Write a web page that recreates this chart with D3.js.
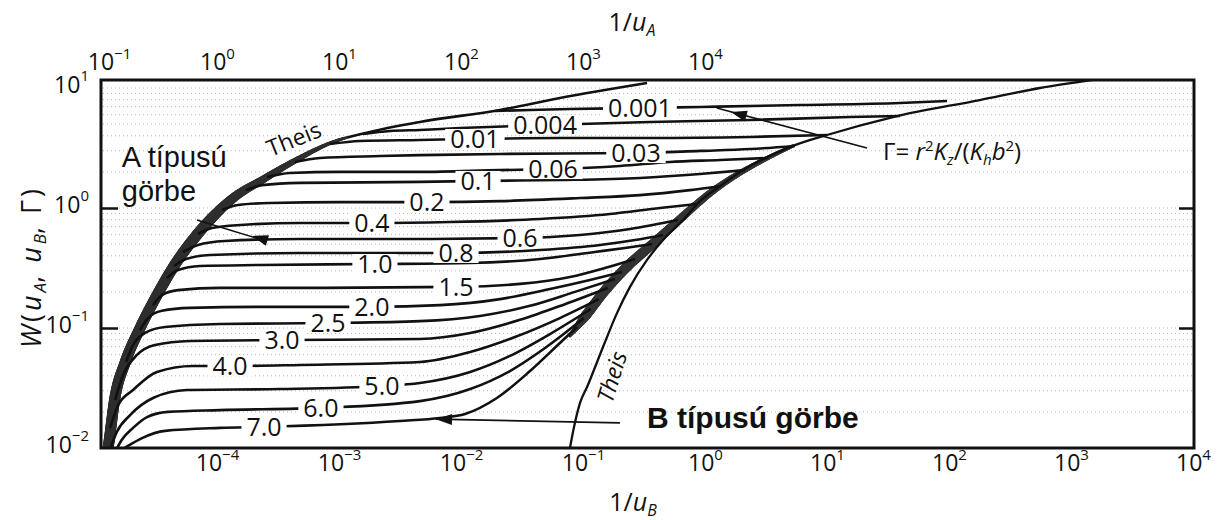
<!DOCTYPE html>
<html>
<head>
<meta charset="utf-8">
<script src="https://cdn.jsdelivr.net/npm/d3@7/dist/d3.min.js"></script>
<style>
  html,body{margin:0;padding:0;background:#fff;}
  svg text{font-family:"Open Sans","Noto Sans","DejaVu Sans",sans-serif;fill:#111;}
</style>
</head>
<body>
<svg id="chart" width="1220" height="520"></svg>
<script>
// ================= DATA =================
// Gamma curve labels
const gammaValues = ["0.001","0.004","0.01","0.03","0.06","0.1","0.2","0.4","0.6","0.8","1.0","1.5","2.0","2.5","3.0","4.0","5.0","6.0","7.0"];

// each curve: [1/u_B, W]
const g0_001 = [[1.90e-2,6.43],[3.68e-2,6.56],[7.82e-2,6.68],[0.293,6.81],[0.910,6.95],[6.01,7.21],[39.7,7.50],[96.4,7.79]];
const g0_004 = [[1.57e-3,4.14],[2.62e-3,4.38],[4.61e-3,4.47],[9.82e-3,4.64],[4.89e-2,4.92],[0.354,5.21],[2.34,5.41],[15.4,5.73],[39.7,5.84]];
const g0_01  = [[8.43e-4,3.41],[1.49e-3,3.62],[4.61e-3,3.69],[1.30e-2,3.76],[6.47e-2,3.83],[0.354,3.83],[2.34,3.91],[10,4.06]];
const g0_03  = [[4.36e-4,2.42],[6.98e-4,2.61],[2.17e-3,2.71],[4.61e-3,2.76],[2.09e-2,2.82],[0.272,2.87],[0.910,2.99],[2.34,3.10],[5.47,3.29]];
const g0_06  = [[2.57e-4,1.81],[3.96e-4,1.96],[1.02e-3,2.0],[4.61e-3,2.0],[2.09e-2,2.07],[5.68e-2,2.11],[0.201,2.24],[0.516,2.42],[1.33,2.51],[3.28,2.61]];
const g0_1   = [[1.73e-4,1.41],[2.34e-4,1.55],[4.79e-4,1.62],[4.61e-3,1.65],[1.38e-2,1.68],[6.47e-2,1.71],[0.293,1.78],[0.910,1.92],[2.13,2.07]];
const g0_2   = [[1.10e-4,0.962],[1.49e-4,1.06],[2.72e-4,1.10],[1.02e-3,1.12],[5.26e-3,1.12],[2.09e-2,1.14],[9.45e-2,1.21],[0.293,1.28],[0.754,1.41],[1.33,1.52]];
const g0_4   = [[6.98e-5,0.607],[9.10e-5,0.681],[1.55e-4,0.722],[4.79e-4,0.75],[1.86e-3,0.75],[8.13e-3,0.764],[4.45e-2,0.81],[0.166,0.891],[0.428,1.0],[0.860,1.08]];
const g0_6   = [[5.26e-5,0.43],[6.98e-5,0.492],[1.16e-4,0.531],[4.79e-4,0.552],[4.61e-3,0.552],[3.05e-2,0.562],[9.45e-2,0.596],[0.243,0.668],[0.601,0.794]];
const g0_8   = [[4.45e-5,0.329],[5.57e-5,0.376],[8.77e-5,0.406],[4.79e-4,0.422],[9.10e-3,0.422],[4.45e-2,0.447],[0.138,0.492],[0.267,0.541],[0.453,0.596]];
const g1_0   = [[3.89e-5,0.261],[4.79e-5,0.304],[7.26e-5,0.329],[2.25e-4,0.335],[1.97e-3,0.341],[1.19e-2,0.348],[4.45e-2,0.376],[0.125,0.43],[0.221,0.464],[0.368,0.501]];
const g1_5   = [[2.99e-5,0.155],[3.54e-5,0.188],[4.79e-5,0.207],[1.06e-4,0.216],[4.79e-4,0.216],[9.10e-3,0.22],[3.05e-2,0.233],[7.82e-2,0.266],[0.151,0.316],[0.267,0.376]];
const g2_0   = [[2.34e-5,0.0962],[2.72e-5,0.121],[3.54e-5,0.139],[6.01e-5,0.147],[2.25e-4,0.15],[1.86e-3,0.15],[6.73e-3,0.155],[2.09e-2,0.174],[5.37e-2,0.211],[0.114,0.251],[0.209,0.293]];
const g2_5   = [[1.80e-5,0.0521],[2.05e-5,0.0722],[2.57e-5,0.0909],[3.75e-5,0.102],[1.06e-4,0.108],[8.13e-4,0.110],[4.61e-3,0.114],[1.43e-2,0.126],[3.68e-2,0.153],[8.59e-2,0.2],[0.183,0.256]];
const g3_0   = [[1.46e-5,0.0251],[1.70e-5,0.0406],[2.21e-5,0.0596],[3.10e-5,0.0722],[6.01e-5,0.078],[3.41e-4,0.0794],[4.61e-3,0.081],[1.19e-2,0.0909],[3.05e-2,0.117],[7.11e-2,0.158],[0.160,0.216]];
const g4_0   = [[1.33e-5,0.0147],[1.55e-5,0.0228],[2.05e-5,0.0304],[3.22e-5,0.043],[6.35e-5,0.0482],[1.28e-4,0.0482],[4.79e-4,0.0492],[4.61e-3,0.0521],[1.19e-2,0.0631],[2.77e-2,0.0841],[6.47e-2,0.121],[0.135,0.174]];
const g5_0   = [[1.35e-5,0.0102],[1.51e-5,0.0136],[1.94e-5,0.0188],[2.99e-5,0.0261],[5.68e-5,0.0304],[3.28e-4,0.031],[2.25e-3,0.0329],[4.61e-3,0.0348],[1.19e-2,0.043],[2.52e-2,0.0585],[5.37e-2,0.0891],[0.116,0.144]];
const g6_0   = [[1.49e-5,0.00962],[1.66e-5,0.0117],[2.05e-5,0.0147],[2.67e-5,0.0181],[3.96e-5,0.02],[1.06e-4,0.0207],[7.11e-4,0.0216],[4.61e-3,0.0246],[1.19e-2,0.031],[2.52e-2,0.0438],[4.89e-2,0.0681],[0.102,0.121]];
const g7_0   = [[1.55e-5,0.00926],[1.86e-5,0.0104],[2.43e-5,0.0121],[3.75e-5,0.0139],[1.06e-4,0.0147],[2.43e-4,0.015],[3.16e-3,0.0168],[6.73e-3,0.0178],[1.08e-2,0.0192],[1.97e-2,0.0261],[3.68e-2,0.0438],[6.47e-2,0.075],[8.93e-2,0.102]];

const curveData = [g0_001,g0_004,g0_01,g0_03,g0_06,g0_1,g0_2,g0_4,g0_6,g0_8,g1_0,g1_5,g2_0,g2_5,g3_0,g4_0,g5_0,g6_0,g7_0];
// 1/u_B position of each curve label
const labelX = [0.293,0.0489,0.013,0.272,0.0568,0.0138,0.00526,0.00186,0.0305,0.0091,0.00197,0.0091,0.00186,0.000813,0.000341,0.000128,0.00225,0.000711,0.000243];

// Theis curve of type A, [1/u_A, W]
const theisA = [[0.119,0.0066],[0.128,0.01],[0.146,0.0266],[0.176,0.0511],[0.23,0.0962],[0.316,0.181],[0.461,0.348],[0.74,0.656],[1.40,1.24],[2.34,1.71],[4.45,2.51],[8.93,3.55],[17.9,4.30],[46,5.21],[209,6.56],[647,8.25],[3350,11.0]];
// Theis curve of type B, [1/u_B, W]
const theisB = [[0.074,0.0072],[0.0782,0.01],[0.0945,0.0237],[0.108,0.0322],[0.146,0.0695],[0.190,0.133],[0.243,0.22],[0.335,0.369],[0.453,0.541],[0.66,0.794],[0.91,1.14],[1.33,1.52],[1.94,2.0],[5.26,3.29],[10,4.06],[34.8,5.73],[179,7.94],[557,10],[1514,11.7]];
// dark band where type-B curves converge, [1/u_B, W]
const bandB = [[0.0782,0.0858],[0.0893,0.102],[0.114,0.141],[0.146,0.196],[0.190,0.266],[0.252,0.355],[0.341,0.464],[0.498,0.656],[0.754,0.962],[1.10,1.33],[1.70,1.81],[2.82,2.42],[5.26,3.29]];

// axis ticks
const xTicksBottom = [1e-4,1e-3,1e-2,1e-1,1,10,100,1000,10000];
const xTicksTop = [0.1,1,10,100,1000,10000];
const yTicks = [0.01,0.1,1,10];
const yMajorInner = [0.1,1];

// annotation arrows: [from, to, tip] in [1/u_B, W]
const arrowFrom = [[6.85e-5,0.794],[1.25,6.81],[6.24e-3,0.0174]];
const arrowTo   = [[2.52e-4,0.531],[21.3,3.16],[0.201,0.0162]];
const arrowTip  = [[1.94e-4,0.585],[1.63,6.31],[6.24e-3,0.0174]];

// ================= DRAWING =================
const svg = d3.select("#chart");
const L = 101, R = 1194, T = 80, B = 448;
const x = d3.scaleLog().domain([1.12e-5, 1.02e4]).range([L, R]);
const xTop = d3.scaleLog().domain([1.12e-1, 1.02e8]).range([L, R]);
const y = d3.scaleLog().domain([0.01, 11.66]).range([B, T]);

svg.append("rect").attr("width",1220).attr("height",520).attr("fill","#fff");

svg.append("defs").append("clipPath").attr("id","plotclip")
  .append("rect").attr("x",L).attr("y",T).attr("width",R-L).attr("height",B-T);

// faint dotted log-paper grid
const gridVals = [];
[-2,-1,0].forEach(e => { for (let k=1;k<=9;k++){ const v=k*Math.pow(10,e); if (v>0.0101) gridVals.push(v);} });
gridVals.push(10);
svg.append("g").selectAll("line").data(gridVals).join("line")
  .attr("x1",L+2).attr("x2",R-2).attr("y1",d=>y(d)).attr("y2",d=>y(d))
  .attr("stroke","#b8b8b8").attr("stroke-width",1).attr("stroke-dasharray","1 3");

const plot = svg.append("g").attr("clip-path","url(#plotclip)");

const lineB = d3.line().x(d=>x(d[0])).y(d=>y(d[1])).curve(d3.curveMonotoneX);
const lineA = d3.line().x(d=>xTop(d[0])).y(d=>y(d[1])).curve(d3.curveMonotoneX);

function tapered(g, pathD, widthFn, color){
  const tmp = g.append("path").attr("d",pathD).attr("fill","none").attr("stroke","none");
  const node = tmp.node(); const len = node.getTotalLength();
  const pts = d3.range(0, len, 1.5).map(l=>node.getPointAtLength(l)); pts.push(node.getPointAtLength(len));
  tmp.remove();
  for (let i=0;i<pts.length-1;i++){
    const w = widthFn(pts[i]);
    if (w <= 0) continue;
    g.append("line").attr("x1",pts[i].x).attr("y1",pts[i].y).attr("x2",pts[i+1].x).attr("y2",pts[i+1].y)
      .attr("stroke",color).attr("stroke-width",w).attr("stroke-linecap","round");
  }
}

// Theis A: thick dark band lower part, thin line upper part
plot.append("path").attr("d",lineA(theisA)).attr("fill","none").attr("stroke","#111").attr("stroke-width",2.6);
tapered(plot, lineA(theisA), p => p.x < 205 ? 11 : (p.x < 345 ? 11 - (p.x-205)/140*8.4 : 0), "#2e2e2e");

// convergence band of type B curves
tapered(plot, lineB(bandB), p => p.x < 585 ? 3 + (p.x-570)/15*7 : (p.x < 640 ? 10 : (p.x < 800 ? 10 - (p.x-640)/160*7 : 3)), "#333");

// Theis B thin line
plot.append("path").attr("d",lineB(theisB)).attr("fill","none").attr("stroke","#111").attr("stroke-width",2.3);

// Gamma curves
plot.selectAll("path.gc").data(curveData).join("path").attr("class","gc")
  .attr("d",d=>lineB(d)).attr("fill","none").attr("stroke","#111").attr("stroke-width",2.6)
  .attr("stroke-linejoin","round");

// curve labels
function interpLog(data, xv){
  const lx = Math.log10(xv);
  for (let i=0;i<data.length-1;i++){
    const a=Math.log10(data[i][0]), b=Math.log10(data[i+1][0]);
    if (lx>=a && lx<=b){ const t=(lx-a)/(b-a); return Math.pow(10, Math.log10(data[i][1])+t*(Math.log10(data[i+1][1])-Math.log10(data[i][1]))); }
  }
  return data[data.length-1][1];
}
const fs = 25;
const labG = svg.append("g");
gammaValues.forEach((g,i)=>{
  const xv = labelX[i], wv = interpLog(curveData[i], xv);
  const px = x(xv), py = y(wv);
  const grp = labG.append("g");
  const rect = grp.append("rect").attr("fill","#fff");
  const t = grp.append("text").attr("x",px).attr("y",py+0.36*fs).attr("text-anchor","middle")
    .attr("font-size",fs).text(g);
  const w = t.node().getComputedTextLength();
  rect.attr("x",px-w/2-5).attr("y",py-0.36*fs-1).attr("width",w+10).attr("height",0.72*fs+2);
});

// arrows
const annG = svg.append("g");
arrowFrom.forEach((f,i)=>{
  const to = arrowTo[i], tip = arrowTip[i];
  const x1=x(f[0]), y1=y(f[1]), x2=x(to[0]), y2=y(to[1]);
  annG.append("line").attr("x1",x1).attr("y1",y1).attr("x2",x2).attr("y2",y2)
    .attr("stroke","#111").attr("stroke-width",1.6);
  const tx=x(tip[0]), ty=y(tip[1]);
  let ux=x1-x2, uy=y1-y2; const n=Math.hypot(ux,uy); ux/=n; uy/=n;
  const bx=tx-ux*16, by=ty-uy*16, px=-uy, py=ux;
  annG.append("path").attr("d",`M${tx},${ty}L${bx+px*5.5},${by+py*5.5}L${bx-px*5.5},${by-py*5.5}Z`).attr("fill","#111");
});

// annotation texts
annG.append("text").attr("x",x(1.66e-5)).attr("y",y(2.2)).attr("font-size",29)
  .style("font-family","'Liberation Sans',Arial,sans-serif").text("A típusú");
annG.append("text").attr("x",x(1.66e-5)).attr("y",y(1.14)).attr("font-size",29)
  .style("font-family","'Liberation Sans',Arial,sans-serif").text("görbe");
annG.append("text").attr("x",x(0.335)).attr("y",y(0.0147)).attr("font-size",30).attr("font-weight","bold")
  .style("font-family","'Liberation Sans',Arial,sans-serif").text("B típusú görbe");

annG.append("text").attr("transform",`translate(${x(4.28e-4)},${y(3.76)}) rotate(-22)`)
  .attr("text-anchor","middle").attr("dy","0.35em").attr("font-size",23).text("Theis");
annG.append("text").attr("transform",`translate(${x(0.173)},${y(0.0391)}) rotate(-73)`)
  .attr("text-anchor","middle").attr("dy","0.35em").attr("font-size",23).attr("font-style","italic").text("Theis");

// Gamma formula
const gt = annG.append("text").attr("x",x(28.8)).attr("y",y(2.51)).attr("font-size",24);
gt.append("tspan").text("Γ= ");
gt.append("tspan").attr("font-style","italic").text("r");
gt.append("tspan").attr("font-size",15).attr("dy",-9).text("2");
gt.append("tspan").attr("font-style","italic").attr("dy",9).text("K");
gt.append("tspan").attr("font-size",15).attr("dy",5).attr("font-style","italic").text("z");
gt.append("tspan").attr("dy",-5).text("/(");
gt.append("tspan").attr("font-style","italic").text("K");
gt.append("tspan").attr("font-size",15).attr("dy",5).attr("font-style","italic").text("h");
gt.append("tspan").attr("dy",-5).attr("font-style","italic").text("b");
gt.append("tspan").attr("font-size",15).attr("dy",-9).text("2");
gt.append("tspan").attr("dy",9).text(")");

// frame
svg.append("rect").attr("x",L).attr("y",T).attr("width",R-L).attr("height",B-T)
  .attr("fill","none").attr("stroke","#111").attr("stroke-width",3);

// axes
function supLabel(sel, size){
  sel.each(function(d){
    const t = d3.select(this); t.text(null);
    t.append("tspan").attr("font-size",size).text("10");
    const e = Math.round(Math.log10(d));
    t.append("tspan").attr("font-size",Math.round(size*0.65)).attr("dy","-0.75em").text(e<0 ? "−"+(-e) : String(e));
  });
}
function cleanAxis(g){ g.attr("font-family",null).attr("font-size",null); g.select(".domain").remove(); }

const tickFs = 23;
const gxB = svg.append("g").attr("transform",`translate(0,${B})`)
  .call(d3.axisBottom(x).tickValues(xTicksBottom).tickSize(0).tickPadding(12).tickFormat(()=>""));
cleanAxis(gxB); gxB.selectAll("text").call(supLabel, tickFs);

const gxT = svg.append("g").attr("transform",`translate(0,${T})`)
  .call(d3.axisTop(xTop).tickValues(xTicksTop).tickSize(0).tickPadding(10).tickFormat(()=>""));
cleanAxis(gxT); gxT.selectAll("text").call(supLabel, tickFs).attr("dx", d => d < 0.5 ? 14 : 0);

const gyL = svg.append("g").attr("transform",`translate(${L},0)`)
  .call(d3.axisLeft(y).tickValues(yTicks).tickSizeInner(-17).tickSizeOuter(0).tickPadding(12).tickFormat(()=>""));
cleanAxis(gyL);
gyL.selectAll(".tick line").attr("stroke","#111").attr("stroke-width",2.5)
  .attr("display", d => yMajorInner.includes(d) ? null : "none");
gyL.selectAll("text").call(supLabel, tickFs).attr("dy", "0.25em");

const gyR = svg.append("g").attr("transform",`translate(${R},0)`)
  .call(d3.axisRight(y).tickValues(yMajorInner).tickSizeInner(-15).tickSizeOuter(0).tickFormat(()=>""));
cleanAxis(gyR);
gyR.selectAll(".tick line").attr("stroke","#111").attr("stroke-width",2.5);

// axis titles
const tt = svg.append("text").attr("x",632).attr("y",31).attr("text-anchor","middle").attr("font-size",25);
tt.append("tspan").text("1/");
tt.append("tspan").attr("font-style","italic").text("u");
tt.append("tspan").attr("font-style","italic").attr("font-size",16).attr("dy",5).text("A");

const bt = svg.append("text").attr("x",633).attr("y",511).attr("text-anchor","middle").attr("font-size",25);
bt.append("tspan").text("1/");
bt.append("tspan").attr("font-style","italic").text("u");
bt.append("tspan").attr("font-style","italic").attr("font-size",16).attr("dy",5).text("B");

const lt = svg.append("text").attr("transform","translate(41,267) rotate(-90)").attr("text-anchor","middle")
  .attr("font-size",27).attr("letter-spacing",3);
lt.append("tspan").attr("font-style","italic").text("W");
lt.append("tspan").text("(");
lt.append("tspan").attr("font-style","italic").text("u");
lt.append("tspan").attr("font-style","italic").attr("font-size",17).attr("dy",5).attr("letter-spacing",0).text("A");
lt.append("tspan").attr("dy",-5).text(", ");
lt.append("tspan").attr("font-style","italic").text("u");
lt.append("tspan").attr("font-style","italic").attr("font-size",17).attr("dy",5).attr("letter-spacing",0).text("B");
lt.append("tspan").attr("dy",-5).text(", Γ)");
</script>
</body>
</html>
